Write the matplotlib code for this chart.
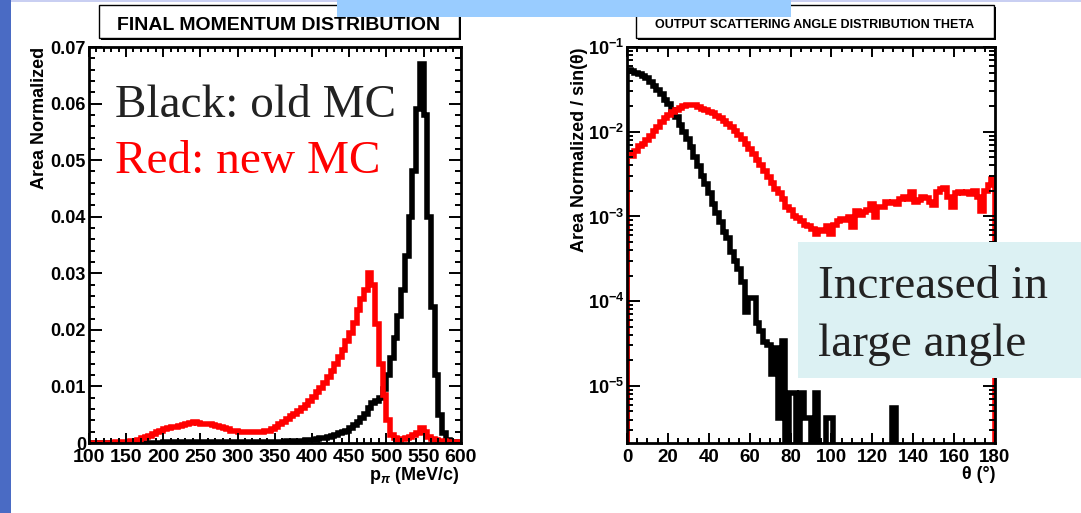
"""
plot.py
=======
Old vs new MC comparison: final pion momentum and output scattering angle.
"""

import matplotlib
matplotlib.use("Agg")
import matplotlib.pyplot as plt
from matplotlib.patches import Rectangle
from matplotlib.ticker import MultipleLocator, FixedLocator, FixedFormatter, LogLocator, NullFormatter
import numpy as np

plt.rcParams["font.family"] = ["Liberation Sans", "DejaVu Sans"]
plt.rcParams["font.weight"] = "bold"
plt.rcParams["mathtext.fontset"] = "custom"
plt.rcParams["mathtext.rm"] = "Liberation Sans:bold"
plt.rcParams["mathtext.bf"] = "Liberation Sans:bold"
plt.rcParams["mathtext.it"] = "Liberation Sans:bold:italic"

# ---------------------------------------------------------------------------
# Data (area normalised, 100 bins each)
# ---------------------------------------------------------------------------
P_RANGE = (100.0, 600.0)

p_old = [
    0, 0, 0, 0, 0, 0, 0, 0, 0, 0,
    0, 0, 0, 0, 0, 0, 0, 0, 0, 0,
    0.0001, 0.0001, 0.0001, 0.0001, 0.0001, 0.0001, 0.0001, 0.0001, 0.0001, 0.0001,
    0.0001, 0.0001, 0.0001, 0.0001, 0.0001, 0.0001, 0.0002, 0.0002, 0.0002, 0.0002,
    0.0002, 0.0002, 0.0002, 0.0002, 0.0002, 0.0002, 0.0002, 0.0002, 0.0002, 0.0002,
    0.0002, 0.0002, 0.0002, 0.0003, 0.0003, 0.0003, 0.0004, 0.0004, 0.0005, 0.0005,
    0.0006, 0.0007, 0.0008, 0.0009, 0.0011, 0.0013, 0.0015, 0.0017, 0.0019, 0.0022,
    0.0026, 0.0031, 0.0037, 0.0044, 0.0052, 0.0062, 0.0070, 0.0075, 0.0080, 0.0095,
    0.0120, 0.0150, 0.0185, 0.0225, 0.0270, 0.0330, 0.0400, 0.0480, 0.0590, 0.0670,
    0.0580, 0.0400, 0.0240, 0.0120, 0.0050, 0.0018, 0.0006, 0.0002, 0.0001, 0.0,
]

p_new = [
    0, 0, 0, 0, 0, 0, 0, 0.0001, 0.0001, 0.0001,
    0.0002, 0.0003, 0.0004, 0.0006, 0.0008, 0.0010, 0.0013, 0.0016, 0.0019, 0.0022,
    0.0024, 0.0026, 0.0028, 0.0029, 0.0030, 0.0032, 0.0034, 0.0036, 0.0037, 0.0035,
    0.0034, 0.0033, 0.0034, 0.0032, 0.0030, 0.0029, 0.0026, 0.0024, 0.0022, 0.0021,
    0.0020, 0.0020, 0.0020, 0.0019, 0.0020, 0.0020, 0.0020, 0.0021, 0.0022, 0.0025,
    0.0029, 0.0033, 0.0037, 0.0042, 0.0047, 0.0052, 0.0056, 0.0061, 0.0068, 0.0075,
    0.0082, 0.0090, 0.0098, 0.0106, 0.0116, 0.0128, 0.0140, 0.0152, 0.0165, 0.0180,
    0.0195, 0.0212, 0.0235, 0.0255, 0.0270, 0.0300, 0.0280, 0.0210, 0.0140, 0.0085,
    0.0040, 0.0015, 0.0008, 0.0006, 0.0007, 0.0009, 0.0011, 0.0014, 0.0018, 0.0027,
    0.0019, 0.0011, 0.0007, 0.0005, 0.0004, 0.0003, 0.0002, 0.0002, 0.0001, 0.0001,
]

THETA_RANGE = (0.0, 180.0)

theta_old = [
    0.054, 0.052, 0.050, 0.048, 0.046, 0.043, 0.039, 0.035, 0.031, 0.028,
    0.024, 0.021, 0.018, 0.015, 0.012, 0.010, 0.0083, 0.0066, 0.0051, 0.0039,
    0.0030, 0.0024, 0.0019, 0.0014, 0.0011, 0.00085, 0.00066, 0.00055, 0.00038, 0.00030,
    0.00024, 0.00017, 0.000075, 0.00011, 0.00011, 0.000055, 0.000045, 0.000033, 0.000030, 0.000014,
    0.000028, 0.0000042, 0.000034, 0, 0.0000083, 0.0000083, 0, 0.0000083, 0.0000042, 0.0000042,
    0, 0.0000083, 0, 0, 0.0000042, 0.0000042, 0, 0, 0, 0,
    0, 0, 0, 0, 0, 0, 0, 0, 0, 0,
    0, 0, 0.0000055, 0, 0, 0, 0, 0, 0, 0,
    0, 0, 0, 0, 0, 0, 0, 0, 0, 0,
    0, 0, 0, 0, 0, 0, 0, 0, 0, 0,
]

theta_new = [
    0.0055, 0.0052, 0.0060, 0.0068, 0.0072, 0.0080, 0.0090, 0.0102, 0.0115, 0.0132,
    0.0145, 0.0158, 0.0170, 0.0182, 0.0192, 0.0200, 0.0205, 0.0207, 0.0204, 0.0195,
    0.0188, 0.0180, 0.0173, 0.0165, 0.0155, 0.0144, 0.0133, 0.0122, 0.0113, 0.0102,
    0.0092, 0.0083, 0.0072, 0.0062, 0.0055, 0.0047, 0.0040, 0.0034, 0.0029, 0.0025,
    0.0021, 0.0019, 0.0016, 0.0013, 0.0012, 0.0010, 0.00095, 0.00088, 0.00080, 0.00078,
    0.00072, 0.00062, 0.00070, 0.00068, 0.00078, 0.00062, 0.00080, 0.00088, 0.00094, 0.00092,
    0.00098, 0.00075, 0.00117, 0.00105, 0.00112, 0.00120, 0.00141, 0.00098, 0.00130, 0.00128,
    0.00148, 0.00145, 0.00148, 0.00140, 0.00160, 0.00170, 0.00160, 0.00195, 0.00150, 0.00155,
    0.00170, 0.00165, 0.00150, 0.00135, 0.00195, 0.00210, 0.00214, 0.00170, 0.00130, 0.00190,
    0.00195, 0.00190, 0.00195, 0.00185, 0.00200, 0.00170, 0.00117, 0.00200, 0.00233, 0.00280,
]

W, H = 1081, 513
OLD_COLOR = "black"
NEW_COLOR = "#ff0000"
LOG_FLOOR = 1e-9
LW = 4.0


def _fx(px):
    return px / W


def _fy(py):
    return (H - py) / H


def _root_style(ax):
    """ROOT-ish frame: inward ticks on all four sides, thick frame."""
    for sp in ax.spines.values():
        sp.set_linewidth(2.0)
    ax.tick_params(which="both", direction="in", top=True, right=True, width=1.4)
    ax.tick_params(axis="x", which="major", length=7, labelsize=14, pad=4)
    ax.tick_params(axis="x", which="minor", length=3.5)
    ax.tick_params(axis="y", which="major", length=9, labelsize=13, pad=2)
    ax.tick_params(axis="y", which="minor", length=4.5)


def _title_box(fig, x0, x1, text, size):
    y0, y1 = 5, 38
    shadow = Rectangle((_fx(x0 + 2), _fy(y1 + 2)), _fx(x1 - x0), (y1 - y0) / H,
                       transform=fig.transFigure, facecolor="black", edgecolor="none", zorder=3)
    box = Rectangle((_fx(x0), _fy(y1)), _fx(x1 - x0), (y1 - y0) / H,
                    transform=fig.transFigure, facecolor="white", edgecolor="black",
                    linewidth=1.0, zorder=4)
    fig.patches.extend([shadow, box])
    fig.text(_fx((x0 + x1) / 2), _fy(25), text, ha="center", va="center",
             fontsize=size, fontweight="bold", zorder=5)


def main():
    fig = plt.figure(figsize=(W / 100, H / 100), dpi=100)

    # slide decorations
    fig.patches.append(Rectangle((0, 0), _fx(11), 1, transform=fig.transFigure,
                                 facecolor="#4a6bc4", edgecolor="none", zorder=1))
    fig.patches.append(Rectangle((_fx(11), _fy(2)), 1, 2 / H, transform=fig.transFigure,
                                 facecolor="#c9cff2", edgecolor="none", zorder=1))
    fig.patches.append(Rectangle((_fx(337), _fy(17)), _fx(791 - 337), 17 / H,
                                 transform=fig.transFigure, facecolor="#99ccff",
                                 edgecolor="none", zorder=6))

    # ---- left: final momentum -------------------------------------------
    ax1 = fig.add_axes([_fx(88.8), _fy(443), _fx(460.7 - 88.8), 396 / H])
    edges = np.linspace(P_RANGE[0], P_RANGE[1], len(p_old) + 1)
    ax1.stairs(p_old, edges, baseline=0, color=OLD_COLOR, linewidth=LW)
    ax1.stairs(p_new, edges, baseline=0, color=NEW_COLOR, linewidth=LW)
    ax1.set_xlim(*P_RANGE)
    ax1.set_ylim(0, 0.07)
    ax1.xaxis.set_major_locator(MultipleLocator(50))
    ax1.xaxis.set_minor_locator(MultipleLocator(10))
    ax1.set_yticks(np.arange(0, 0.0701, 0.01))
    ax1.set_yticklabels(["0", "0.01", "0.02", "0.03", "0.04", "0.05", "0.06", "0.07"])
    ax1.yaxis.set_minor_locator(MultipleLocator(0.002))
    _root_style(ax1)

    ax1.text(0.0705, 0.823, "Black: old MC", transform=ax1.transAxes, va="baseline",
             fontsize=34, fontweight="normal", family="Liberation Serif", color="#222222")
    ax1.text(0.0705, 0.682, "Red: new MC", transform=ax1.transAxes, va="baseline",
             fontsize=34, fontweight="normal", family="Liberation Serif", color=NEW_COLOR)

    fig.text(_fx(40), _fy(47), "Area Normalized", rotation=90, ha="center", va="top",
             fontsize=13, fontweight="bold")
    fig.text(_fx(460), _fy(480), r"p$_{\pi}$ (MeV/c)", ha="right", va="baseline",
             fontsize=13, fontweight="bold")
    _title_box(fig, 99, 459, "FINAL MOMENTUM DISTRIBUTION", 14)

    # ---- right: scattering angle -----------------------------------------
    ax2 = fig.add_axes([_fx(627), _fy(443), _fx(995 - 627), 396 / H])
    t_edges = np.linspace(THETA_RANGE[0], THETA_RANGE[1], len(theta_old) + 1)
    old = np.where(np.array(theta_old) > 0, theta_old, LOG_FLOOR)
    new = np.where(np.array(theta_new) > 0, theta_new, LOG_FLOOR)
    ax2.stairs(old, t_edges, baseline=LOG_FLOOR, color=OLD_COLOR, linewidth=LW)
    ax2.stairs(new, t_edges, baseline=LOG_FLOOR, color=NEW_COLOR, linewidth=LW)
    ax2.set_yscale("log")
    ax2.set_xlim(*THETA_RANGE)
    ax2.set_ylim(2.12e-6, 0.1)
    ax2.xaxis.set_major_locator(MultipleLocator(20))
    ax2.xaxis.set_minor_locator(MultipleLocator(5))
    decades = [1e-5, 1e-4, 1e-3, 1e-2, 1e-1]
    ax2.yaxis.set_major_locator(FixedLocator(decades))
    ax2.yaxis.set_major_formatter(FixedFormatter(
        [r"$\mathbf{10^{-5}}$", r"$\mathbf{10^{-4}}$", r"$\mathbf{10^{-3}}$",
         r"$\mathbf{10^{-2}}$", r"$\mathbf{10^{-1}}$"]))
    ax2.yaxis.set_minor_locator(LogLocator(base=10, subs=np.arange(2, 10), numticks=20))
    ax2.yaxis.set_minor_formatter(NullFormatter())
    _root_style(ax2)
    ax2.tick_params(axis="x", labelsize=13.5)

    fig.text(_fx(579), _fy(47), "Area Normalized / sin(θ)", rotation=90, ha="center",
             va="top", fontsize=13, fontweight="bold")
    fig.text(_fx(996), _fy(479), "θ (°)", ha="right", va="baseline",
             fontsize=13, fontweight="bold")
    _title_box(fig, 635.7, 994, "OUTPUT SCATTERING ANGLE DISTRIBUTION THETA", 9)

    # annotation box on top of the right panel
    fig.patches.append(Rectangle((_fx(797.6), _fy(378)), 1 - _fx(797.6), 136 / H,
                                 transform=fig.transFigure, facecolor="#dcf1f3",
                                 edgecolor="none", zorder=6))
    fig.text(_fx(818), _fy(298), "Increased in", va="baseline", fontsize=34,
             family="Liberation Serif", fontweight="normal", color="#222222", zorder=7)
    fig.text(_fx(818), _fy(356), "large angle", va="baseline", fontsize=34,
             family="Liberation Serif", fontweight="normal", color="#222222", zorder=7)

    fig.savefig("out.png", dpi=100)


if __name__ == "__main__":
    main()
